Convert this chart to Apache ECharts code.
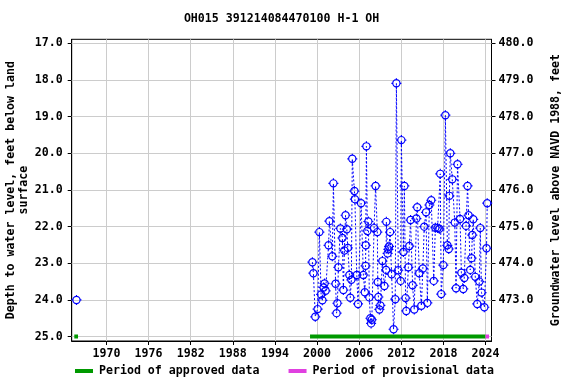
<!DOCTYPE html>
<html>
<head>
<meta charset="utf-8">
<script src="https://cdn.jsdelivr.net/npm/echarts@6/dist/echarts.min.js"></script>
<style>
html,body{margin:0;padding:0;background:#fff;}
#chart{width:576px;height:384px;}
</style>
</head>
<body>
<div id="chart"></div>
<script>
// ---- Data ----
const titleText = 'OH015 391214084470100 H-1 OH';
const leftAxisName = 'Depth to water level, feet below land\nsurface';
const rightAxisName = 'Groundwater level above NAVD 1988, feet';
const datumOffset = 497.0; // elevation = datumOffset - depth

const yearTicks = [1970, 1976, 1982, 1988, 1994, 2000, 2006, 2012, 2018, 2024];
const depthTicks = [17, 18, 19, 20, 21, 22, 23, 24, 25];
const elevTicks = [473, 474, 475, 476, 477, 478, 479, 480];

const earlyYears = [1965.73];
const earlyDepths = [24.0];

const years = [
  1999.34, 1999.48, 1999.75, 2000.08, 2000.33, 2000.58, 2000.76, 2000.93, 2001.07, 2001.22,
  2001.64, 2001.76, 2002.18, 2002.33, 2002.64, 2002.78, 2002.90, 2003.04, 2003.32, 2003.61,
  2003.75, 2003.89, 2004.06, 2004.24, 2004.38, 2004.61, 2004.73, 2004.89, 2005.02, 2005.32,
  2005.39, 2005.66, 2005.84, 2006.27, 2006.60, 2006.80, 2006.91, 2006.94, 2007.03, 2007.17,
  2007.31, 2007.45, 2007.60, 2007.70, 2007.80, 2008.12, 2008.34, 2008.59, 2008.65, 2008.74,
  2008.88, 2009.02, 2009.31, 2009.59, 2009.83, 2009.87, 2010.05, 2010.16, 2010.26, 2010.40,
  2010.62, 2010.90, 2011.14, 2011.30, 2011.57, 2011.90, 2012.01, 2012.30, 2012.44, 2012.61,
  2012.71, 2013.01, 2013.15, 2013.32, 2013.61, 2013.85, 2014.15, 2014.27, 2014.56, 2014.86,
  2015.07, 2015.27, 2015.53, 2015.71, 2016.00, 2016.27, 2016.62, 2016.85, 2017.17, 2017.42,
  2017.55, 2017.69, 2017.99, 2018.28, 2018.56, 2018.76, 2018.85, 2018.98, 2019.26, 2019.62,
  2019.80, 2020.01, 2020.37, 2020.56, 2020.83, 2020.97, 2021.22, 2021.44, 2021.58, 2021.82,
  2022.01, 2022.12, 2022.25, 2022.54, 2022.82, 2023.12, 2023.25, 2023.43, 2023.83, 2024.14,
  2024.24
];
const depths = [
  22.97, 23.27, 24.46, 24.25, 22.15, 23.85, 24.01, 23.66, 23.55, 23.75,
  22.51, 21.85, 22.81, 20.82, 23.56, 24.36, 24.09, 23.11, 22.05, 22.31,
  23.73, 22.65, 21.69, 22.07, 22.58, 23.32, 23.94, 23.45, 20.15, 21.03,
  21.25, 23.32, 24.11, 21.36, 23.32, 23.79, 23.07, 22.51, 19.81, 22.12,
  21.86, 23.93, 24.50, 24.64, 24.54, 22.04, 20.89, 22.15, 23.51, 23.92,
  24.26, 24.15, 22.94, 23.62, 23.18, 21.87, 22.73, 22.62, 22.54, 22.15,
  23.30, 24.80, 23.98, 18.09, 23.19, 23.48, 19.64, 22.69, 20.89, 23.95,
  24.30, 23.11, 22.53, 21.82, 23.60, 24.26, 21.78, 21.47, 23.27, 24.16,
  23.14, 22.00, 21.61, 24.08, 21.41, 21.28, 23.48, 22.03, 22.04, 22.06,
  20.56, 23.84, 23.05, 18.96, 22.51, 22.61, 21.16, 20.00, 20.71, 21.89,
  23.68, 20.30, 21.79, 23.26, 23.70, 23.40, 21.98, 20.89, 21.69, 23.18,
  22.86, 22.23, 21.80, 23.37, 24.11, 23.50, 22.04, 23.80, 24.20, 22.59,
  21.36
];

const approvedPeriods = [[1965.42, 1965.95], [1999.0, 2024.0]];
const provisionalPeriods = [[2024.0, 2024.5]];
const periodDepth = 25.0;

const xMin = 1965.05, xMax = 2024.85;
const yMin = 16.89, yMax = 25.12;

// ---- Chart ----
const FONT = 'DejaVu Sans Mono';
const FS = 11.6;
const BLUE = '#0000ff';
const GREEN = '#009900';
const PINK = '#e040e0';
const GRIDC = '#cccccc';

const markerPath = 'path://M0,-5L0,-3.6M0,3.6L0,5M-5,0L-3.6,0M3.6,0L5,0M3.6,0A3.6,3.6,0,1,1,-3.6,0A3.6,3.6,0,1,1,3.6,0Z';

function pairs(xs, ys) { return xs.map((x, i) => [x, ys[i]]); }

const series = [];
// grid lines at the tick values (drawn through the axes' scales)
series.push({
  name: 'gridlines', type: 'line', xAxisIndex: 0, yAxisIndex: 0, data: [], silent: true, z: 1,
  markLine: {
    silent: true, symbol: ['none', 'none'], animation: false, z: 1,
    label: { show: false },
    lineStyle: { color: GRIDC, width: 1, type: 'solid' },
    emphasis: { disabled: true },
    data: yearTicks.map(v => ({ xAxis: v })).concat(depthTicks.map(v => ({ yAxis: v })))
  }
});
approvedPeriods.forEach(p => {
  series.push({
    name: 'Period of approved data', type: 'line', xAxisIndex: 0, yAxisIndex: 0,
    symbol: 'none', silent: true, z: 3,
    itemStyle: { color: GREEN },
    lineStyle: { color: GREEN, width: 4, cap: 'butt' },
    data: [[p[0], periodDepth], [p[1], periodDepth]]
  });
});
provisionalPeriods.forEach(p => {
  series.push({
    name: 'Period of provisional data', type: 'line', xAxisIndex: 0, yAxisIndex: 0,
    symbol: 'none', silent: true, z: 3,
    itemStyle: { color: PINK },
    lineStyle: { color: PINK, width: 4, cap: 'butt' },
    data: [[p[0], periodDepth], [p[1], periodDepth]]
  });
});
const ptStyle = {
  type: 'line', xAxisIndex: 0, yAxisIndex: 0, z: 5,
  symbol: markerPath, symbolSize: 10, showSymbol: true, showAllSymbol: true,
  itemStyle: { color: 'rgba(0,0,0,0)', borderColor: BLUE, borderWidth: 1.2 },
  lineStyle: { color: BLUE, width: 1, type: [2, 2] }
};
series.push(Object.assign({ name: 'early', data: pairs(earlyYears, earlyDepths) }, ptStyle));
series.push(Object.assign({ name: 'levels', data: pairs(years, depths) }, ptStyle));

const axisTxt = { fontFamily: FONT, fontSize: FS, fontWeight: 'bold', color: '#000' };

const option = {
  animation: false,
  backgroundColor: '#fff',
  title: {
    text: titleText, left: 281.6, textAlign: 'center', top: 13, padding: 0,
    textStyle: { fontFamily: FONT, fontSize: FS, fontWeight: 'bold', color: '#000' }
  },
  grid: {
    left: 71.7, right: 84.5, top: 39.3, bottom: 43,
    show: true, borderColor: '#000', borderWidth: 1, backgroundColor: 'transparent',
    containLabel: false, outerBoundsMode: 'none'
  },
  legend: {
    data: ['Period of approved data', 'Period of provisional data'],
    left: 75, top: 365, itemGap: 29, itemWidth: 18, itemHeight: 4, icon: 'rect',
    padding: 0, selectedMode: false,
    textStyle: { fontFamily: FONT, fontSize: FS, fontWeight: 'bold', color: '#000', padding: [0, 0, 0, 1] }
  },
  xAxis: [{
    type: 'value', min: xMin, max: xMax,
    axisLine: { show: true, onZero: false, lineStyle: { color: '#000', width: 1 } },
    axisTick: { show: true, inside: false, length: 4, customValues: yearTicks, lineStyle: { color: '#000' } },
    axisLabel: Object.assign({ margin: 7, customValues: yearTicks, formatter: v => String(Math.round(v)) }, axisTxt),
    splitLine: { show: false }
  }],
  yAxis: [{
    type: 'value', min: yMin, max: yMax, inverse: true, position: 'left',
    name: leftAxisName, nameLocation: 'middle', nameRotate: 90, nameGap: 41, nameMoveOverlap: false,
    nameTextStyle: { fontFamily: FONT, fontSize: FS, fontWeight: 'bold', color: '#000', lineHeight: 13, align: 'center' },
    axisLine: { show: true, onZero: false, lineStyle: { color: '#000', width: 1 } },
    axisTick: { show: true, inside: false, length: 4, customValues: depthTicks, lineStyle: { color: '#000' } },
    axisLabel: Object.assign({ margin: 9, customValues: depthTicks, formatter: v => v.toFixed(1) }, axisTxt),
    splitLine: { show: false }
  }, {
    type: 'value', min: datumOffset - yMax, max: datumOffset - yMin, position: 'right',
    name: rightAxisName, nameLocation: 'middle', nameRotate: 90, nameGap: 58, nameMoveOverlap: false,
    nameTextStyle: { fontFamily: FONT, fontSize: FS, fontWeight: 'bold', color: '#000' },
    axisLine: { show: true, onZero: false, lineStyle: { color: '#000', width: 1 } },
    axisTick: { show: true, inside: false, length: 4, customValues: elevTicks, lineStyle: { color: '#000' } },
    axisLabel: Object.assign({ margin: 7, customValues: elevTicks, formatter: v => v.toFixed(1) }, axisTxt),
    splitLine: { show: false }
  }],
  series: series
};

const chart = echarts.init(document.getElementById('chart'), null, { renderer: 'canvas' });
chart.setOption(option);
</script>
</body>
</html>
